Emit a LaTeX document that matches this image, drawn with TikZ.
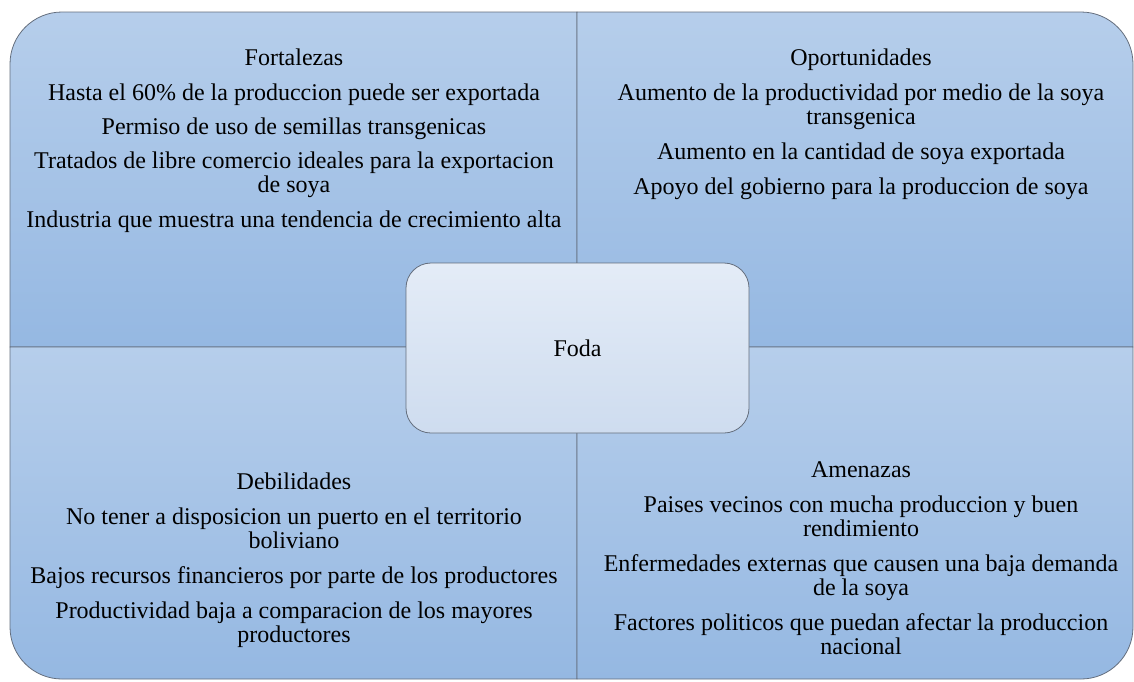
\documentclass[tikz,border=0pt]{standalone}
\usepackage{fontspec}
\setmainfont{Liberation Serif}
\usepackage{tikz}
\definecolor{quadtop}{RGB}{182,206,235}
\definecolor{quadbot}{RGB}{149,184,226}
\definecolor{edgegray}{RGB}{100,110,125}
\definecolor{fodatop}{RGB}{228,236,247}
\definecolor{fodabot}{RGB}{206,220,239}

\begin{document}
\begin{tikzpicture}[x=1pt,y=-1pt,
    quad/.style={draw=edgegray, line width=0.8pt, top color=quadtop, bottom color=quadbot},
    swot/.style={anchor=north, align=center, inner sep=0pt, font=\rmfamily\fontsize{24}{24}\selectfont},
    foda/.style={draw=edgegray, line width=0.8pt, rounded corners=25pt, top color=fodatop, bottom color=fodabot,
        minimum width=343pt, minimum height=170pt, font=\rmfamily\fontsize{24}{24}\selectfont}]
    \useasboundingbox (0,0) rectangle (1134,681);

    % Four quadrants, each with one rounded outer corner
    \draw[quad] (577,347) -- (10,347) -- (10,64) arc[start angle=180, end angle=270, radius=52] -- (577,12) -- cycle;
    \draw[quad] (577,12) -- (1081,12) arc[start angle=270, end angle=360, radius=52] -- (1133,347) -- (577,347) -- cycle;
    \draw[quad] (10,347) -- (577,347) -- (577,679) -- (62,679) arc[start angle=90, end angle=180, radius=52] -- cycle;
    \draw[quad] (577,347) -- (1133,347) -- (1133,627) arc[start angle=0, end angle=90, radius=52] -- (577,679) -- cycle;

    % Quadrant texts
    \node[swot] (fort) at (294,48.5) {Fortalezas\\[11pt]
        Hasta el 60\% de la produccion puede ser exportada\\[10pt]
        Permiso de uso de semillas transgenicas\\[10pt]
        Tratados de libre comercio ideales para la exportacion\\ de soya\\[11pt]
        Industria que muestra una tendencia de crecimiento alta};
    \node[swot] (opor) at (861,48.5) {Oportunidades\\[11pt]
        Aumento de la productividad por medio de la soya\\ transgenica\\[11pt]
        Aumento en la cantidad de soya exportada\\[11pt]
        Apoyo del gobierno para la produccion de soya};
    \node[swot] (debi) at (294,473) {Debilidades\\[11pt]
        No tener a disposicion un puerto en el territorio\\ boliviano\\[11pt]
        Bajos recursos financieros por parte de los productores\\[11pt]
        Productividad baja a comparacion de los mayores\\ productores};
    \node[swot] (amen) at (861,461) {Amenazas\\[11pt]
        Paises vecinos con mucha produccion y buen\\ rendimiento\\[11pt]
        Enfermedades externas que causen una baja demanda\\ de la soya\\[11pt]
        Factores politicos que puedan afectar la produccion\\ nacional};

    % Center box
    \node[foda] (foda) at (577.5,348) {Foda};
\end{tikzpicture}
\end{document}
